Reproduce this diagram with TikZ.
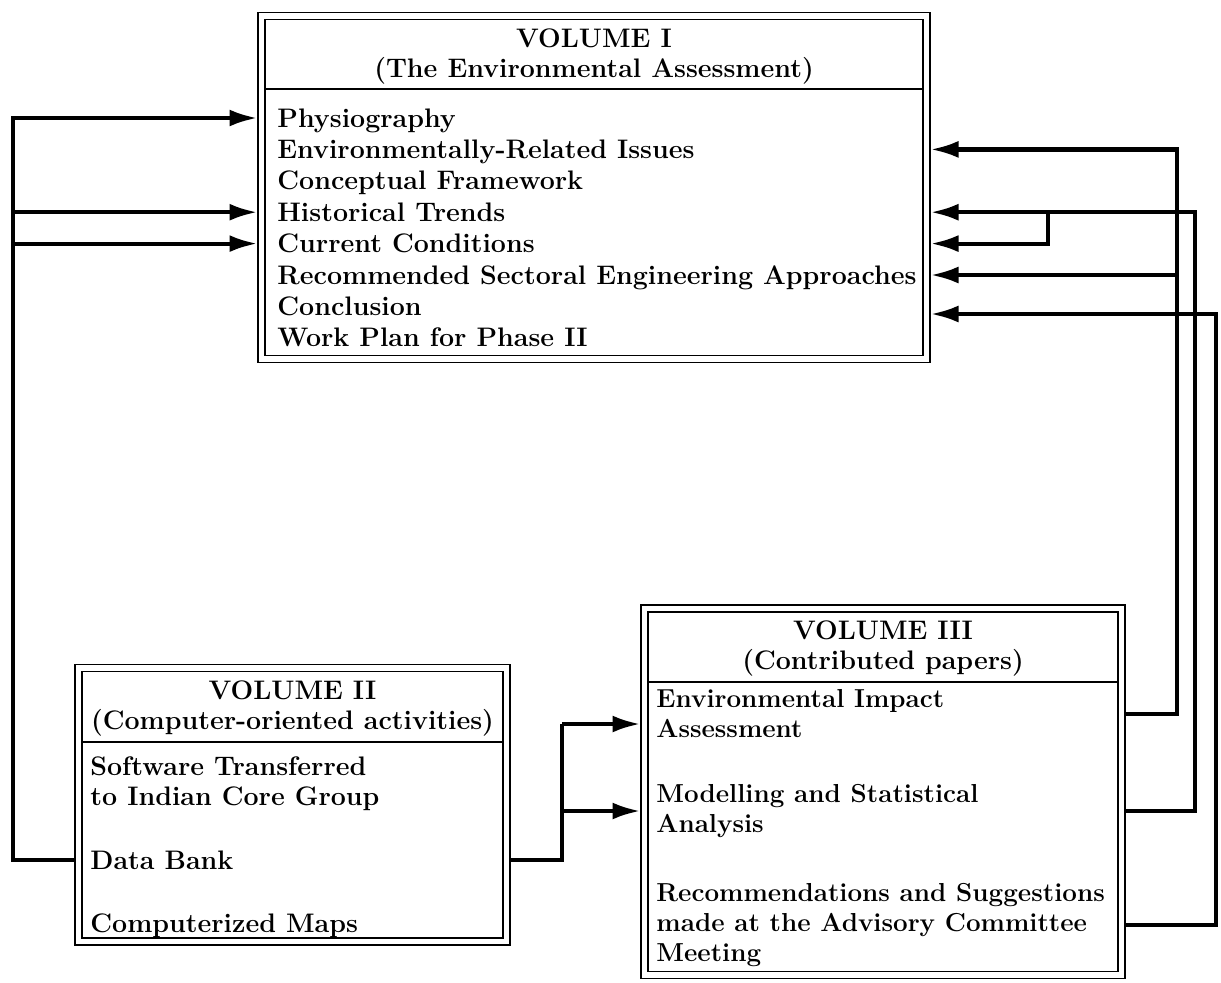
\documentclass[tikz,border=0pt]{standalone}
\usetikzlibrary{arrows.meta}

\begin{document}
\begin{tikzpicture}[x=0.5pt, y=-0.5pt]
    \tikzset{ vol/.style ={draw, double, line width=0.8pt, double distance=2.7pt, inner sep=0pt, outer sep=2pt} }
    \tikzset{ hdr/.style ={align=center, inner sep=0pt, font=\fontsize{13.4}{15}\selectfont\bfseries} }
    \tikzset{ itm/.style ={anchor=west, inner sep=0pt, font=\fontsize{13.4}{15}\selectfont\bfseries} }
    \tikzset{ one/.style ={itm, text height=9pt, text depth=0pt} }
    \tikzset{ two/.style ={itm, align=left} }
    \tikzset{ sepline/.style ={line width=0.8pt, shorten <=3.5pt, shorten >=3.5pt} }
    \tikzset{ link/.style ={line width=2.1pt, -{Latex[length=14pt, width=8.5pt]}} }
    \tikzset{ wire/.style ={line width=2.1pt} }

    \useasboundingbox (0,0) rectangle (1221,982);

    % the three volumes
    \node[vol, minimum width=332.5pt, minimum height=171.5pt] (vol1) at (594,187.5) {};
    \node[vol, minimum width=214pt,   minimum height=136.75pt] (vol2) at (292.5,804.75) {};
    \node[vol, minimum width=238.5pt, minimum height=183.25pt] (vol3) at (883,791.75) {};

    \node[hdr] (hd1) at (594,57)   {VOLUME I\\(The Environmental Assessment)};
    \node[hdr] (hd2) at (292.5,708) {VOLUME II\\(Computer-oriented activities)};
    \node[hdr] (hd3) at (883,648)  {VOLUME III\\(Contributed papers)};

    \coordinate (sep1) at (0,89);
    \coordinate (sep2) at (0,742);
    \coordinate (sep3) at (0,682);
    \draw[sepline] (vol1.west |- sep1) -- (vol1.east |- sep1);
    \draw[sepline] (vol2.west |- sep2) -- (vol2.east |- sep2);
    \draw[sepline] (vol3.west |- sep3) -- (vol3.east |- sep3);

    % volume I contents
    \node[one] (physio)   at (277,118)   {Physiography};
    \node[one] (envrel)   at (277,149.4) {Environmentally-Related Issues};
    \node[one] (concept)  at (277,180.8) {Conceptual Framework};
    \node[one] (histo)    at (277,212.2) {Historical Trends};
    \node[one] (curr)     at (277,243.6) {Current Conditions};
    \node[one] (recsec)   at (277,275)   {Recommended Sectoral Engineering Approaches};
    \node[one] (concl)    at (277,306.4) {Conclusion};
    \node[one] (workplan) at (277,337.8) {Work Plan for Phase II};

    % volume II contents
    \node[two] (softw) at (90,784) {Software Transferred\\to Indian Core Group};
    \node[one] (dbank) at (90,860) {Data Bank};
    \node[one] (cmaps) at (90,923) {Computerized Maps};

    % volume III contents
    \node[two, font=\fontsize{13}{15}\selectfont\bfseries] (eia)   at (656,714) {Environmental Impact\\Assessment};
    \node[two, font=\fontsize{13}{15}\selectfont\bfseries] (msa)   at (656,811) {Modelling and Statistical\\Analysis};
    \node[two, font=\fontsize{13}{15}\selectfont\bfseries] (recom) at (656,925) {Recommendations and Suggestions\\made at the Advisory Committee\\Meeting};

    % buses
    \coordinate (lbus)  at (13,0);
    \coordinate (mbus)  at (562,0);
    \coordinate (jog)   at (1048,0);
    \coordinate (rbusA) at (1177,0);
    \coordinate (rbusB) at (1195,0);
    \coordinate (rbusC) at (1216,0);
    \coordinate (eiain) at (0,724);
    \coordinate (conin) at (0,314);

    \draw[link] (vol2.west |- dbank) -- (lbus |- dbank) -- (lbus |- physio) -- (vol1.west |- physio);
    \draw[link] (lbus |- histo) -- (vol1.west |- histo);
    \draw[link] (lbus |- curr)  -- (vol1.west |- curr);

    \draw[wire] (vol2.east |- dbank) -- (mbus |- dbank) -- (mbus |- eiain);
    \draw[link] (mbus |- eiain) -- (vol3.west |- eiain);
    \draw[link] (mbus |- msa) -- (vol3.west |- msa);

    \draw[link] (vol3.east |- eia) -- (rbusA |- eia) -- (rbusA |- envrel) -- (vol1.east |- envrel);
    \draw[link] (rbusA |- recsec) -- (vol1.east |- recsec);
    \draw[link] (vol3.east |- msa) -- (rbusB |- msa) -- (rbusB |- histo) -- (vol1.east |- histo);
    \draw[link] (jog |- histo) -- (jog |- curr) -- (vol1.east |- curr);
    \draw[link] (vol3.east |- recom) -- (rbusC |- recom) -- (rbusC |- conin) -- (vol1.east |- conin);
\end{tikzpicture}
\end{document}
